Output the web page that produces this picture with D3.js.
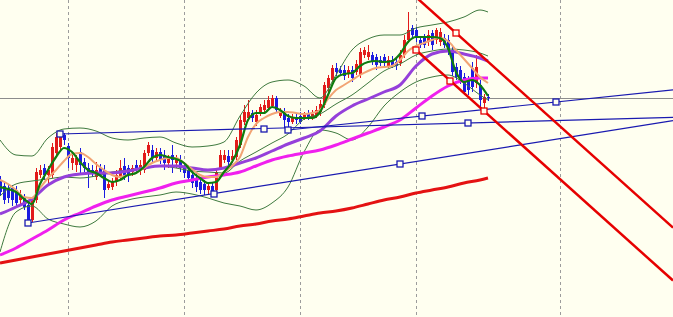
<!DOCTYPE html>
<html>
<head>
<meta charset="utf-8">
<title>Price chart</title>
<style>
  html, body { margin: 0; padding: 0; background: #fffff0; }
  svg { display: block; }
</style>
</head>
<body>
<div id="chart"></div>
<script src="https://d3js.org/d3.v7.min.js"></script>
<script>
// price bars, oldest first (one bar per slot)
var open = [
  148.20,148.14,148.12,148.12,148.10,148.00,148.03,147.95,147.80,148.00,
  148.25,148.32,148.25,148.25,148.47,148.53,148.65,148.54,148.37,148.35,
  148.48,148.38,148.32,148.30,148.23,148.32,148.30,148.12,148.13,148.18,
  148.23,148.34,148.32,148.28,148.35,148.30,148.30,148.47,148.50,148.42,
  148.48,148.45,148.37,148.45,148.37,148.40,148.32,148.30,148.25,148.22,
  148.18,148.16,148.10,148.14,148.10,148.32,148.40,148.44,148.40,148.43,
  148.55,148.78,148.82,148.87,148.78,148.87,148.90,148.92,148.94,149.02,
  148.84,148.88,148.82,148.78,148.83,148.84,148.82,148.86,148.82,148.84,
  148.88,148.95,149.12,149.20,149.32,149.30,149.30,149.26,149.30,149.28,
  149.25,149.45,149.43,149.45,149.43,149.40,149.43,149.34,149.40,149.38,
  149.37,149.45,149.60,149.72,149.70,149.60,149.62,149.58,149.67,149.60,
  149.58,149.62,149.60,149.50,149.33,149.30,149.23,149.20,149.32,149.17,
  149.15,148.97,149.03
];
var high = [
  148.24,148.18,148.16,148.15,148.14,148.10,148.06,148.00,148.03,148.32,
  148.35,148.36,148.34,148.57,148.67,148.67,148.67,148.57,148.48,148.45,
  148.52,148.42,148.37,148.35,148.38,148.36,148.35,148.20,148.22,148.30,
  148.40,148.42,148.35,148.35,148.40,148.40,148.50,148.58,148.55,148.52,
  148.52,148.50,148.45,148.55,148.45,148.45,148.37,148.35,148.30,148.28,
  148.23,148.20,148.18,148.18,148.32,148.50,148.50,148.50,148.50,148.63,
  148.85,148.95,149.00,148.90,148.90,148.96,149.00,149.04,149.05,149.04,
  148.92,148.92,148.86,148.86,148.87,148.88,148.88,148.90,148.90,148.94,
  149.00,149.18,149.25,149.35,149.37,149.34,149.35,149.34,149.34,149.40,
  149.52,149.53,149.55,149.48,149.46,149.44,149.46,149.44,149.44,149.42,
  149.50,149.65,149.88,149.75,149.73,149.64,149.66,149.70,149.70,149.72,
  149.72,149.66,149.65,149.54,149.37,149.34,149.27,149.24,149.38,149.45,
  149.20,149.06,149.06
];
var low = [
  148.04,147.96,147.97,147.94,147.92,147.96,147.90,147.76,147.78,147.97,
  148.22,148.20,148.16,148.22,148.44,148.50,148.55,148.32,148.30,148.28,
  148.25,148.28,148.12,148.23,148.20,148.24,148.02,148.10,148.10,148.14,
  148.20,148.20,148.18,148.24,148.26,148.25,148.27,148.44,148.38,148.38,
  148.36,148.30,148.32,148.27,148.32,148.28,148.22,148.18,148.12,148.08,
  148.06,148.05,148.06,148.05,148.08,148.30,148.37,148.35,148.37,148.40,
  148.52,148.75,148.80,148.78,148.74,148.84,148.87,148.90,148.92,148.87,
  148.82,148.72,148.72,148.76,148.76,148.76,148.80,148.80,148.80,148.82,
  148.84,148.92,149.08,149.18,149.24,149.24,149.20,149.22,149.18,149.25,
  149.22,149.42,149.40,149.35,149.30,149.34,149.34,149.32,149.32,149.30,
  149.34,149.42,149.57,149.62,149.58,149.52,149.52,149.54,149.50,149.56,
  149.54,149.52,149.45,149.24,149.20,149.16,149.05,149.05,149.08,149.12,
  148.90,148.88,148.99
];
var close = [
  148.08,148.00,148.02,148.00,147.97,148.06,147.93,147.80,148.00,148.28,
  148.30,148.25,148.30,148.53,148.63,148.65,148.60,148.42,148.42,148.42,
  148.35,148.32,148.27,148.28,148.30,148.28,148.10,148.16,148.18,148.25,
  148.32,148.24,148.25,148.32,148.30,148.35,148.47,148.55,148.42,148.48,
  148.40,148.37,148.42,148.40,148.40,148.32,148.27,148.22,148.17,148.13,
  148.10,148.10,148.14,148.08,148.28,148.45,148.45,148.38,148.44,148.60,
  148.80,148.88,148.88,148.82,148.85,148.93,148.95,149.00,149.02,148.90,
  148.88,148.80,148.78,148.82,148.80,148.78,148.85,148.82,148.86,148.90,
  148.96,149.15,149.22,149.32,149.28,149.27,149.24,149.30,149.22,149.36,
  149.48,149.50,149.48,149.38,149.35,149.37,149.37,149.40,149.35,149.34,
  149.45,149.60,149.70,149.65,149.62,149.55,149.55,149.65,149.55,149.70,
  149.68,149.55,149.48,149.28,149.23,149.20,149.08,149.10,149.13,149.33,
  149.00,149.03,149.02
];

// fast averages, read every 2nd bar
var fastBars = d3.range(0, 123, 2);
var maGreen = [
  148.13,148.11,148.08,148.01,147.96,148.16,148.30,148.43,148.52,148.48,
  148.38,148.30,148.27,148.22,148.18,148.20,148.25,148.27,148.33,148.42,
  148.45,148.43,148.41,148.37,148.28,148.22,148.17,148.18,148.28,148.38,
  148.55,148.80,148.87,148.87,148.93,148.90,148.84,148.82,148.82,148.82,
  148.88,149.05,149.22,149.26,149.27,149.34,149.38,149.39,149.38,149.39,
  149.46,149.58,149.63,149.63,149.63,149.62,149.52,149.28,149.18,149.20,
  149.15,149.04
];
var maOrange = [
  148.20,148.16,148.10,148.03,148.02,148.12,148.22,148.30,148.39,148.46,
  148.47,148.43,148.36,148.30,148.25,148.23,148.25,148.27,148.32,148.37,
  148.40,148.42,148.42,148.37,148.31,148.25,148.23,148.23,148.28,148.34,
  148.43,148.63,148.76,148.82,148.86,148.88,148.88,148.87,148.86,148.87,
  148.90,149.01,149.10,149.15,149.20,149.25,149.29,149.32,149.33,149.34,
  149.40,149.49,149.54,149.57,149.60,149.62,149.59,149.50,149.41,149.32,
  149.23,149.17
];

// slow averages and bands, read every 4th bar
var slowBars = d3.range(0, 121, 4).concat([122]);
var maPurple = [
  147.86,147.93,148.01,148.15,148.23,148.26,148.27,148.27,148.29,148.32,
  148.34,148.34,148.32,148.30,148.32,148.37,148.42,148.49,148.56,148.62,
  148.69,148.84,148.94,149.01,149.08,149.15,149.34,149.46,149.49,149.46,
  149.42,149.39
];
var maMagenta = [
  147.45,147.52,147.61,147.70,147.80,147.87,147.94,148.00,148.04,148.08,
  148.12,148.17,148.20,148.23,148.25,148.28,148.34,148.40,148.44,148.47,
  148.50,148.55,148.61,148.67,148.73,148.80,148.92,149.04,149.14,149.20,
  149.22,149.22
];
var ma200 = [
  147.37,147.40,147.43,147.46,147.49,147.52,147.55,147.58,147.60,147.62,
  147.64,147.65,147.67,147.69,147.71,147.74,147.76,147.79,147.81,147.84,
  147.87,147.89,147.92,147.96,148.00,148.03,148.07,148.10,148.13,148.17,
  148.20,148.22
];
var bbUpper = [
  148.60,148.45,148.44,148.62,148.71,148.72,148.69,148.62,148.60,148.62,
  148.63,148.57,148.53,148.54,148.58,148.84,149.07,149.18,149.20,149.14,
  149.02,149.25,149.50,149.61,149.65,149.65,149.72,149.75,149.78,149.83,
  149.90,149.88
];
var bbMiddle = [
  148.04,148.16,148.19,148.21,148.23,148.22,148.24,148.28,148.30,148.32,
  148.34,148.32,148.29,148.28,148.27,148.39,148.48,148.57,148.66,148.81,
  148.86,148.96,149.05,149.17,149.29,149.36,149.45,149.49,149.51,149.50,
  149.47,149.44
];
var bbLower = [
  147.48,147.88,147.94,147.81,147.76,147.73,147.79,147.94,148.00,148.03,
  148.05,148.08,148.06,148.02,147.97,147.94,147.90,147.97,148.13,148.48,
  148.70,148.67,148.60,148.73,148.94,149.08,149.18,149.23,149.25,149.17,
  149.05,149.00
];

// drawn objects: anchors as [bar, price]
var trendLines = [
  { a: [15, 148.66], b: [117, 148.77] },
  { a: [72, 148.70], b: [139, 148.98] },
  { a: [7, 147.77],  b: [100, 148.36] }
];
var channelBase = { a: [104, 149.50], b: [121, 148.89] };
var channelTop = [114, 149.67];
var gridBars = [17, 46, 75, 104, 140];

var width = 673, height = 317;

var x = d3.scaleLinear().domain([0, 168.25]).range([0, width]);
var y = d3.scaleLinear().domain([146.83, 150.00]).range([height, 0]);

var svg = d3.select("#chart").append("svg")
    .attr("width", width)
    .attr("height", height);

svg.append("rect")
    .attr("width", width).attr("height", height)
    .attr("fill", "#fffff0");

// vertical dashed grid
svg.selectAll(".grid")
    .data(gridBars)
    .enter().append("line")
    .attr("x1", function(d){ return Math.round(x(d)) + 0.5; })
    .attr("x2", function(d){ return Math.round(x(d)) + 0.5; })
    .attr("y1", 0).attr("y2", height)
    .attr("stroke", "#9c9c9c")
    .attr("stroke-dasharray", "3,3");

// bid line at last close
var bid = close[close.length - 1];
svg.append("line")
    .attr("x1", 0).attr("x2", width)
    .attr("y1", Math.round(y(bid)) + 0.5).attr("y2", Math.round(y(bid)) + 0.5)
    .attr("stroke", "#8c8c8c");

// candles
var bars = d3.range(open.length);
var upCol = "#e21a1a", downCol = "#1c1ce0";

var candle = svg.append("g").attr("shape-rendering", "crispEdges")
    .selectAll("g")
    .data(bars)
    .enter().append("g");

candle.append("line")
    .attr("x1", function(i){ return x(i) + 0.5; })
    .attr("x2", function(i){ return x(i) + 0.5; })
    .attr("y1", function(i){ return y(high[i]); })
    .attr("y2", function(i){ return y(low[i]); })
    .attr("stroke", function(i){ return close[i] >= open[i] ? upCol : downCol; });

candle.append("rect")
    .attr("x", function(i){ return x(i) - 1; })
    .attr("width", 3)
    .attr("y", function(i){ return y(Math.max(open[i], close[i])); })
    .attr("height", function(i){ return Math.max(1, Math.abs(y(open[i]) - y(close[i]))); })
    .attr("fill", function(i){ return close[i] >= open[i] ? upCol : downCol; });

// indicator lines
function drawLine(barIdx, values, color, w) {
    var line = d3.line()
        .x(function(d, i){ return x(barIdx[i]); })
        .y(function(d){ return y(d); })
        .curve(d3.curveMonotoneX);
    svg.append("path")
        .datum(values)
        .attr("d", line)
        .attr("fill", "none")
        .attr("stroke", color)
        .attr("stroke-width", w)
        .attr("stroke-linejoin", "round");
}

drawLine(slowBars, bbUpper, "#3f7a3f", 1);
drawLine(slowBars, bbMiddle, "#3f7a3f", 1);
drawLine(slowBars, bbLower, "#3f7a3f", 1);
drawLine(slowBars, ma200, "#e41212", 3);
drawLine(slowBars, maMagenta, "#f020ee", 3);
drawLine(slowBars, maPurple, "#9540da", 3);
drawLine(fastBars, maOrange, "#f2a474", 2);
drawLine(fastBars, maGreen, "#0e7c0e", 2.2);

// trend lines extended to the right edge
var xEnd = x.domain()[1];
function priceAt(a, b, bar) {
    return a[1] + (b[1] - a[1]) * (bar - a[0]) / (b[0] - a[0]);
}

function marker(bar, price, color) {
    svg.append("rect")
        .attr("x", Math.round(x(bar)) - 3)
        .attr("y", Math.round(y(price)) - 3)
        .attr("width", 6).attr("height", 6)
        .attr("fill", "#fffff0")
        .attr("stroke", color)
        .attr("stroke-width", 1.3);
}

trendLines.forEach(function(t){
    var col = "#1a1ab0";
    svg.append("line")
        .attr("x1", x(t.a[0])).attr("y1", y(t.a[1]))
        .attr("x2", x(xEnd)).attr("y2", y(priceAt(t.a, t.b, xEnd)))
        .attr("stroke", col).attr("stroke-width", 1.2);
    var mid = (t.a[0] + t.b[0]) / 2;
    marker(t.a[0], t.a[1], col);
    marker(mid, priceAt(t.a, t.b, mid), col);
    marker(t.b[0], t.b[1], col);
});

// equidistant channel
var cb = channelBase, chCol = "#e60000";
var shift = channelTop[1] - priceAt(cb.a, cb.b, channelTop[0]);
[0, shift].forEach(function(s){
    svg.append("line")
        .attr("x1", x(cb.a[0])).attr("y1", y(cb.a[1] + s))
        .attr("x2", x(xEnd)).attr("y2", y(priceAt(cb.a, cb.b, xEnd) + s))
        .attr("stroke", chCol).attr("stroke-width", 2.5);
});
var cMid = (cb.a[0] + cb.b[0]) / 2;
marker(cb.a[0], cb.a[1], chCol);
marker(cMid, priceAt(cb.a, cb.b, cMid), chCol);
marker(cb.b[0], cb.b[1], chCol);
marker(channelTop[0], channelTop[1], chCol);
</script>
</body>
</html>
